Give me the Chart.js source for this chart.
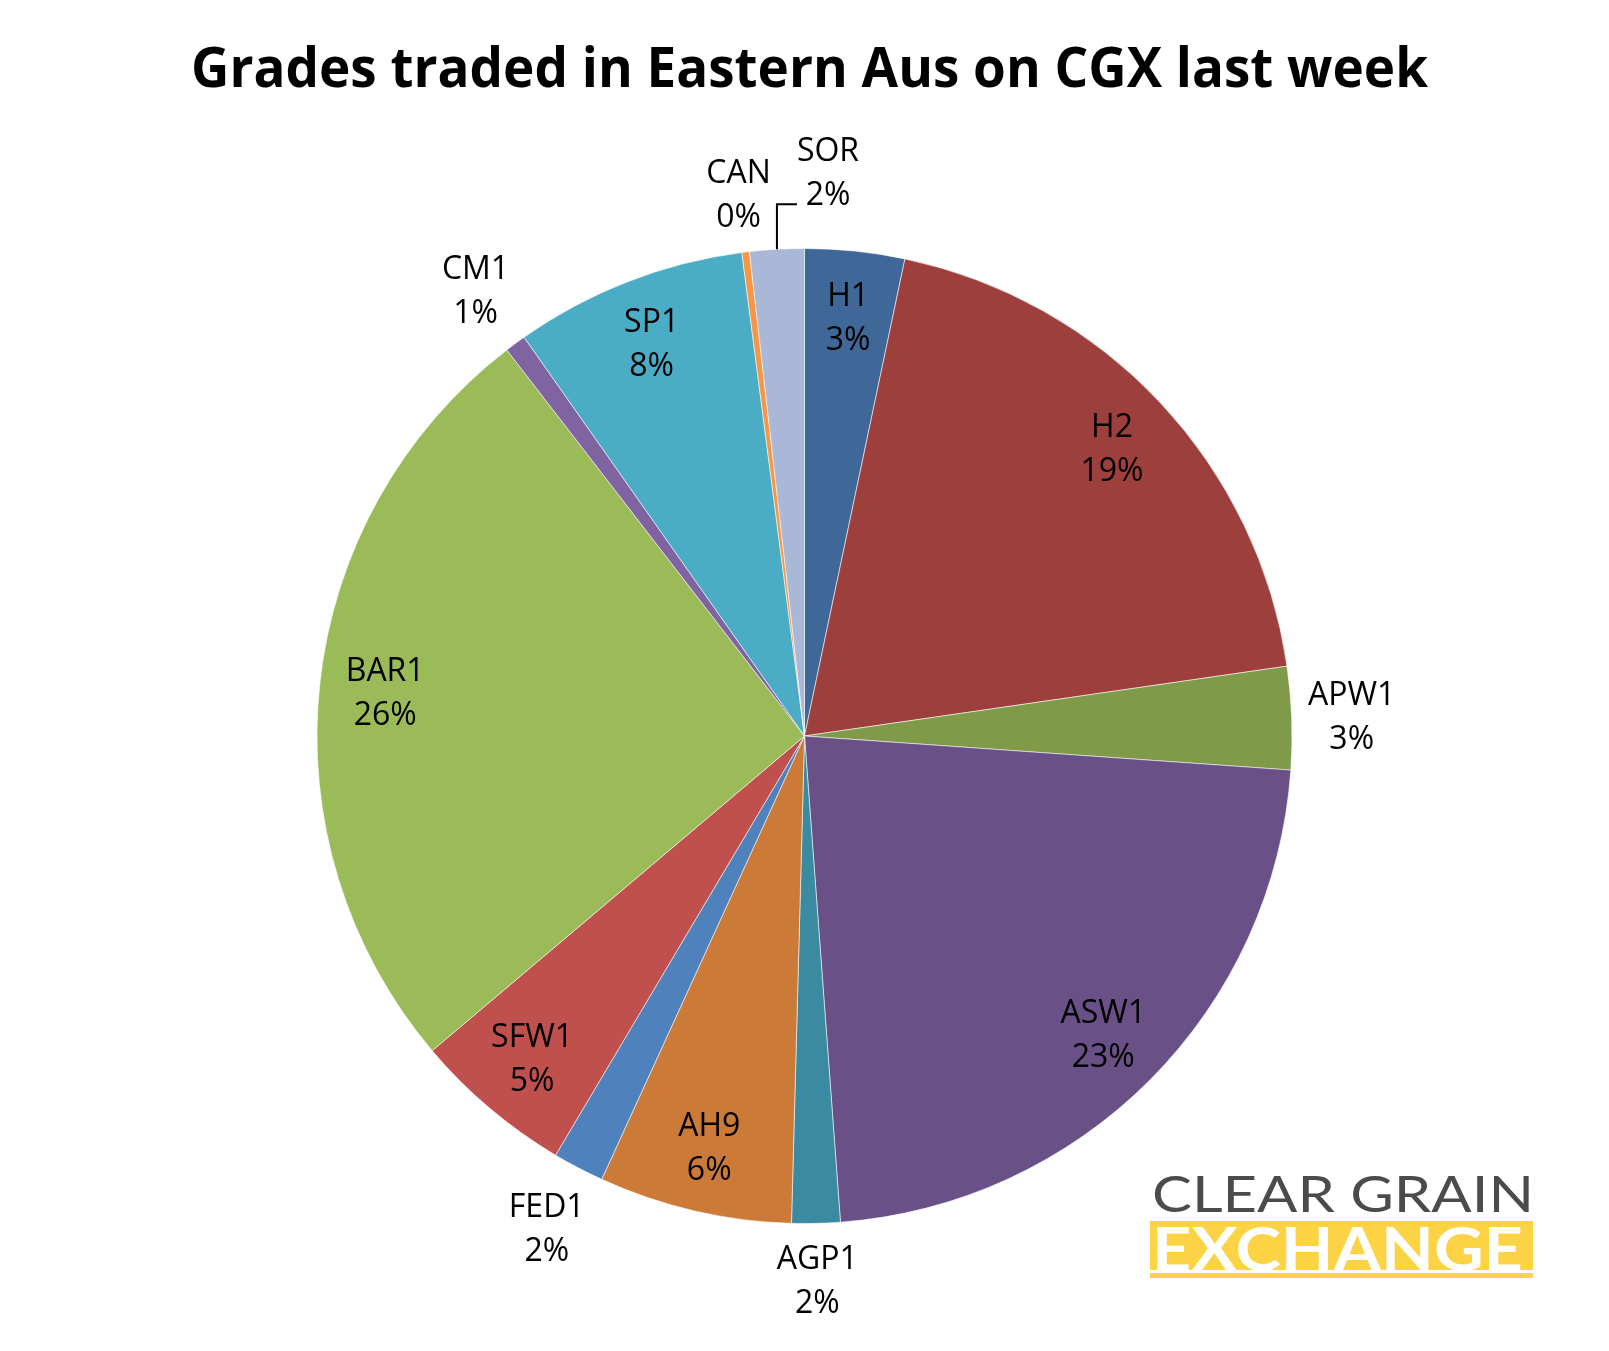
<!DOCTYPE html>
<html>
<head>
<meta charset="utf-8">
<script src="https://cdn.jsdelivr.net/npm/chart.js@4.4.1/dist/chart.umd.min.js"></script>
<style>
html,body{margin:0;padding:0;background:#fff;overflow:hidden}
#wrap{position:relative;width:1609px;height:1351px}
canvas{display:block}
</style>
</head>
<body>
<div id="wrap"><canvas id="c" width="1609" height="1351"></canvas></div>
<script>
// ---- data ----
const titleText = 'Grades traded in Eastern Aus on CGX last week';
const categories = ['H1','H2','APW1','ASW1','AGP1','AH9','FED1','SFW1','BAR1','CM1','SP1','CAN','SOR'];
const shares = [3.3, 19.4, 3.4, 22.7, 1.6, 6.4, 1.7, 5.3, 25.7, 0.7, 7.7, 0.25, 1.8];
const logoLine1 = 'CLEAR GRAIN';
const logoLine2 = 'EXCHANGE';

// ---- styles ----
const colors = ['#3F6898','#9D403D','#7F9A48','#695087','#3A8BA2','#CB7A38',
                '#4F81BD','#C0504D','#9BBB59','#8064A2','#4BACC6','#F79646','#A9B8D6'];
const outsideLabels = ['APW1','AGP1','FED1','CM1','CAN','SOR'];
const leaderLabels = ['SOR'];

function drawFit(ctx, text, x, y, targetW, font, color){
  ctx.save();
  ctx.font = font;
  ctx.fillStyle = color;
  ctx.textAlign = 'left';
  ctx.textBaseline = 'alphabetic';
  const w = ctx.measureText(text).width;
  ctx.translate(x, y);
  ctx.scale(targetW / w, 1);
  ctx.fillText(text, 0, 0);
  ctx.restore();
}

const decorPlugin = {
  id: 'decor',
  afterDraw(chart){
    const ctx = chart.ctx;
    // title
    drawFit(ctx, titleText, 191, 87, 1237, 'bold 56px "Open Sans"', '#000');
    // logo
    drawFit(ctx, logoLine1, 1152, 1212, 382, '400 51px Lato', '#4B4B4B');
    ctx.save();
    ctx.fillStyle = '#FCD344';
    ctx.fillRect(1150, 1221, 383, 57);
    ctx.fillStyle = '#fff';
    ctx.fillRect(1150, 1270, 383, 3);
    ctx.restore();
    drawFit(ctx, logoLine2, 1152, 1271, 371, 'bold 61px Lato', '#fff');
  }
};

const labelPlugin = {
  id: 'sliceLabels',
  afterDatasetsDraw(chart){
    const ctx = chart.ctx;
    const meta = chart.getDatasetMeta(0);
    const total = shares.reduce((a,b)=>a+b,0);
    const lineGap = 44, capHalf = 11.3, gap = 15, hh = 40;
    ctx.save();
    ctx.font = '32px "Open Sans"';
    ctx.fillStyle = '#000';
    ctx.textAlign = 'center';
    ctx.textBaseline = 'alphabetic';
    meta.data.forEach((arc, i) => {
      const p = arc.getProps(['x','y','startAngle','endAngle','outerRadius'], true);
      const mid = (p.startAngle + p.endAngle) / 2;
      const cs = Math.cos(mid), sn = Math.sin(mid);
      const r = p.outerRadius;
      const l1 = categories[i];
      const l2 = Math.round(shares[i] / total * 100) + '%';
      const hw = Math.max(ctx.measureText(l1).width, ctx.measureText(l2).width) / 2;
      let cx, cy;
      if (leaderLabels.includes(l1)) {
        const x0 = p.x + cs * r, y0 = p.y + sn * r;
        const x1 = x0, y1 = y0 - 45, x2 = x0 + 20;
        ctx.save();
        ctx.strokeStyle = '#000';
        ctx.lineWidth = 2;
        ctx.beginPath();
        ctx.moveTo(x0, y0); ctx.lineTo(x1, y1); ctx.lineTo(x2, y1);
        ctx.stroke();
        ctx.restore();
        cx = x2 + hw; cy = y1 - 33;
      } else if (outsideLabels.includes(l1)) {
        const ext = hw * Math.abs(cs) + hh * Math.abs(sn);
        const d = r + gap + ext;
        cx = p.x + cs * d; cy = p.y + sn * d;
      } else {
        cx = p.x + cs * r * 0.865; cy = p.y + sn * r * 0.865;
      }
      ctx.fillText(l1, cx, cy - lineGap/2 + capHalf);
      ctx.fillText(l2, cx, cy + lineGap/2 + capHalf);
    });
    ctx.restore();
  }
};

function build(){
  new Chart(document.getElementById('c'), {
    type: 'pie',
    data: {
      labels: categories,
      datasets: [{
        data: shares,
        backgroundColor: colors,
        borderColor: 'rgba(255,255,255,0.55)',
        borderWidth: 1
      }]
    },
    options: {
      responsive: false,
      devicePixelRatio: 1,
      animation: false,
      layout: { padding: { left: 316, right: 316, top: 248, bottom: 127 } },
      plugins: {
        legend: { display: false },
        tooltip: { enabled: false },
        title: { display: false }
      }
    },
    plugins: [labelPlugin, decorPlugin]
  });
}

Promise.all([
  document.fonts.load('bold 56px "Open Sans"'),
  document.fonts.load('32px "Open Sans"'),
  document.fonts.load('400 51px Lato'),
  document.fonts.load('bold 61px Lato')
]).then(build, build);
</script>
</body>
</html>
